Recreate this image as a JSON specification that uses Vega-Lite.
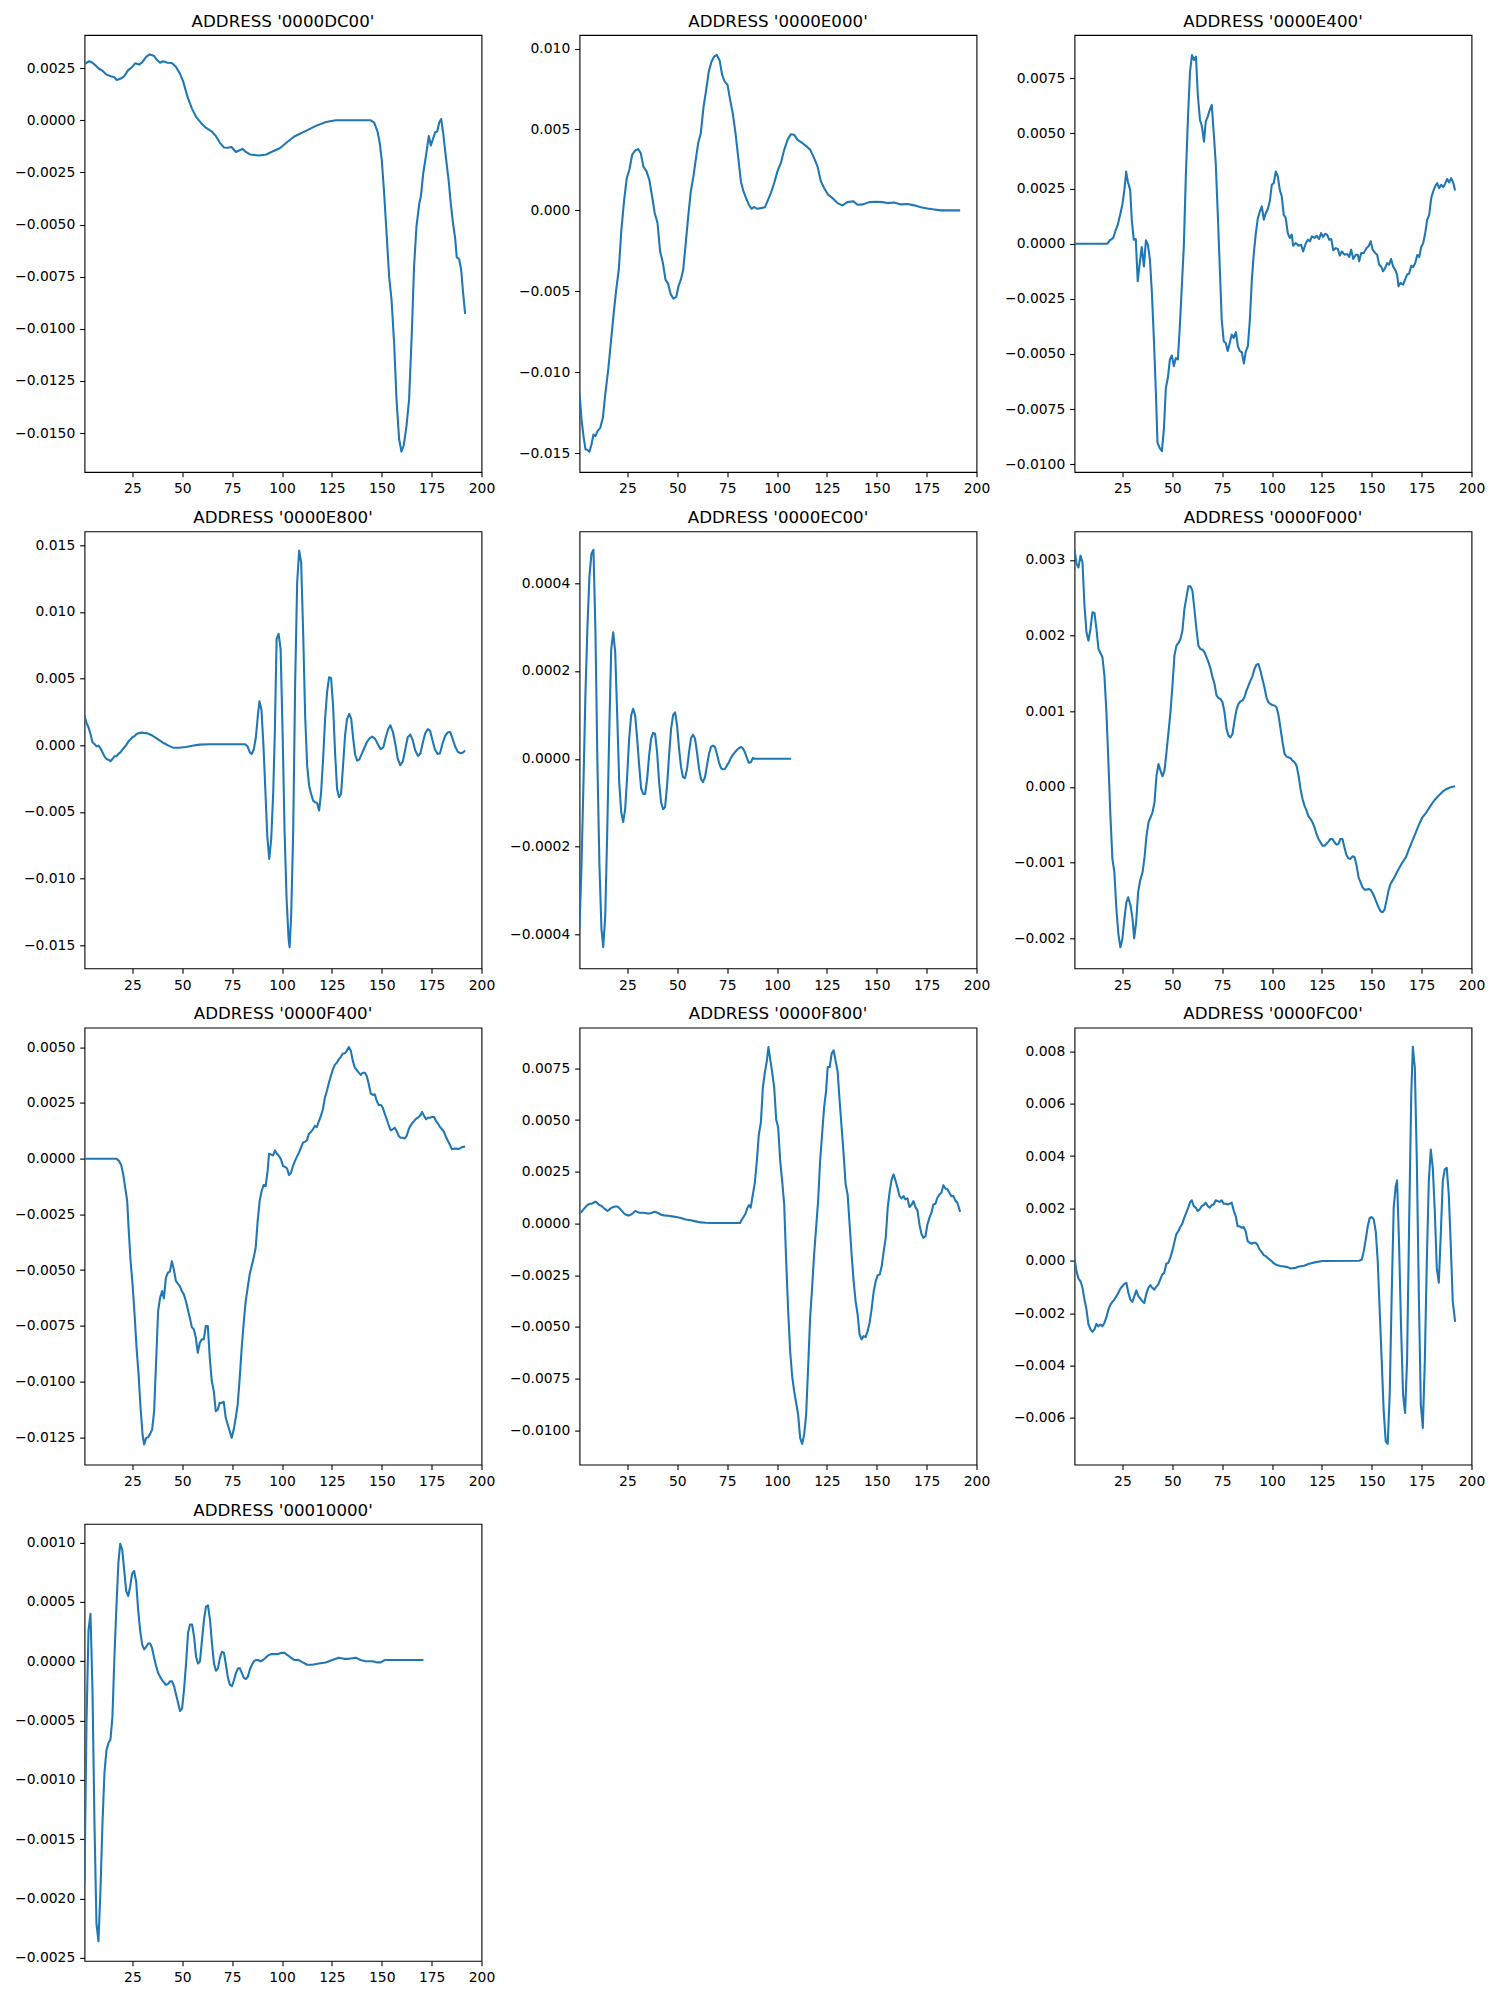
{
"$schema": "https://vega.github.io/schema/vega-lite/v6.json",
"background": "white",
"padding": {"left": 13.5, "top": 13, "right": 5, "bottom": 5},
"columns": 3,
"spacing": {"row": 59.3, "column": 98},
"bounds": "flush",
"datasets": {
"dc00": [{"x":1,"y":0.0027},{"x":3.3,"y":0.00283},{"x":5,"y":0.00276},{"x":6.7,"y":0.00262},{"x":8.4,"y":0.00246},{"x":10,"y":0.00238},{"x":12,"y":0.00219},{"x":14.2,"y":0.00211},{"x":16,"y":0.00206},{"x":17.2,"y":0.00193},{"x":19.2,"y":0.002},{"x":21,"y":0.00212},{"x":22.7,"y":0.00238},{"x":25,"y":0.00257},{"x":26.4,"y":0.00273},{"x":28.4,"y":0.00267},{"x":30,"y":0.00279},{"x":32,"y":0.00305},{"x":33.7,"y":0.00316},{"x":35.7,"y":0.0031},{"x":37.4,"y":0.00289},{"x":38.9,"y":0.00276},{"x":40.4,"y":0.00283},{"x":42.6,"y":0.00276},{"x":44.8,"y":0.00275},{"x":46.8,"y":0.00257},{"x":48.8,"y":0.00225},{"x":50.5,"y":0.00185},{"x":52.6,"y":0.00113},{"x":54.8,"y":0.00057},{"x":57.1,"y":0.00014},{"x":59.5,"y":-0.00014},{"x":62.2,"y":-0.00038},{"x":64.8,"y":-0.00054},{"x":66.8,"y":-0.00075},{"x":68.8,"y":-0.00107},{"x":71,"y":-0.00131},{"x":72.8,"y":-0.00132},{"x":74.7,"y":-0.00128},{"x":76.9,"y":-0.00152},{"x":78.5,"y":-0.00145},{"x":80.2,"y":-0.00137},{"x":81.9,"y":-0.00152},{"x":83.9,"y":-0.00164},{"x":88.6,"y":-0.00169},{"x":92.2,"y":-0.00164},{"x":95.2,"y":-0.0015},{"x":98.9,"y":-0.00134},{"x":101.9,"y":-0.0011},{"x":106.1,"y":-0.00078},{"x":112,"y":-0.00051},{"x":117,"y":-0.00027},{"x":122,"y":-0.00008},{"x":127,"y":0},{"x":144.5,"y":0},{"x":146.2,"y":-0.00011},{"x":147.9,"y":-0.00054},{"x":149,"y":-0.0011},{"x":150,"y":-0.0019},{"x":151.2,"y":-0.0035},{"x":152.4,"y":-0.0054},{"x":153.7,"y":-0.0075},{"x":154.9,"y":-0.0086},{"x":156.2,"y":-0.01068},{"x":157.4,"y":-0.0134},{"x":158.7,"y":-0.0153},{"x":159.9,"y":-0.0159},{"x":161,"y":-0.0156},{"x":162.4,"y":-0.01467},{"x":163.7,"y":-0.0134},{"x":165,"y":-0.01036},{"x":166.2,"y":-0.007},{"x":167.4,"y":-0.0051},{"x":168.8,"y":-0.004},{"x":169.6,"y":-0.00366},{"x":170.8,"y":-0.00254},{"x":172.1,"y":-0.00174},{"x":173.6,"y":-0.00075},{"x":174.6,"y":-0.00121},{"x":175.8,"y":-0.00086},{"x":176.8,"y":-0.00057},{"x":177.8,"y":-0.00054},{"x":178.8,"y":-0.00011},{"x":179.8,"y":0.00006},{"x":180.8,"y":-0.00062},{"x":182.1,"y":-0.00174},{"x":183.5,"y":-0.00286},{"x":184.6,"y":-0.004},{"x":185.8,"y":-0.005},{"x":186.8,"y":-0.00565},{"x":187.6,"y":-0.00658},{"x":188.8,"y":-0.00666},{"x":189.8,"y":-0.00717},{"x":190.8,"y":-0.00829},{"x":191.8,"y":-0.00929}],
"e000": [{"x":1,"y":-0.01128},{"x":2,"y":-0.01292},{"x":3,"y":-0.01395},{"x":4,"y":-0.01477},{"x":5,"y":-0.01481},{"x":6,"y":-0.01492},{"x":7,"y":-0.01447},{"x":8,"y":-0.01385},{"x":9,"y":-0.01395},{"x":10,"y":-0.01364},{"x":11.4,"y":-0.01344},{"x":12.7,"y":-0.01282},{"x":14,"y":-0.01128},{"x":15.4,"y":-0.00984},{"x":16.7,"y":-0.00819},{"x":18,"y":-0.00654},{"x":19.4,"y":-0.0049},{"x":20.7,"y":-0.00366},{"x":22,"y":-0.00119},{"x":23.4,"y":0.00066},{"x":24.7,"y":0.002},{"x":26,"y":0.00251},{"x":27.4,"y":0.00344},{"x":28.9,"y":0.0037},{"x":30.4,"y":0.00379},{"x":31.7,"y":0.00354},{"x":33,"y":0.00272},{"x":34.6,"y":0.00241},{"x":36,"y":0.00189},{"x":37.4,"y":0.00086},{"x":38.7,"y":-0.00016},{"x":40.1,"y":-0.00078},{"x":41.4,"y":-0.00253},{"x":42.8,"y":-0.00325},{"x":44.1,"y":-0.00428},{"x":45.4,"y":-0.00453},{"x":46.8,"y":-0.00521},{"x":48.1,"y":-0.00545},{"x":49.5,"y":-0.00535},{"x":50.6,"y":-0.00469},{"x":51.8,"y":-0.00428},{"x":53,"y":-0.00366},{"x":54.1,"y":-0.00222},{"x":55.5,"y":-0.00037},{"x":56.8,"y":0.00117},{"x":58.1,"y":0.0021},{"x":59.5,"y":0.00333},{"x":60.5,"y":0.00416},{"x":61.8,"y":0.00477},{"x":63.2,"y":0.00642},{"x":64.5,"y":0.00745},{"x":65.8,"y":0.00858},{"x":67.2,"y":0.0092},{"x":68.5,"y":0.00951},{"x":69.8,"y":0.00961},{"x":71.2,"y":0.0093},{"x":72.5,"y":0.00837},{"x":73.8,"y":0.00796},{"x":75.2,"y":0.00776},{"x":76.5,"y":0.00683},{"x":77.8,"y":0.00601},{"x":79.2,"y":0.00477},{"x":80.5,"y":0.00333},{"x":81.9,"y":0.00179},{"x":83.2,"y":0.00117},{"x":84.5,"y":0.00076},{"x":85.9,"y":0.00035},{"x":87.2,"y":0.0001},{"x":88.6,"y":0.00021},{"x":89.9,"y":0.0001},{"x":91.9,"y":0.00014},{"x":93.9,"y":0.00019},{"x":95.2,"y":0.00056},{"x":96.9,"y":0.00107},{"x":98.6,"y":0.00169},{"x":100.2,"y":0.00241},{"x":101.9,"y":0.00292},{"x":103.6,"y":0.00374},{"x":105.3,"y":0.00436},{"x":106.9,"y":0.00471},{"x":108.6,"y":0.00467},{"x":110.3,"y":0.00436},{"x":112.3,"y":0.0042},{"x":114.5,"y":0.00399},{"x":116.7,"y":0.00374},{"x":118.6,"y":0.00323},{"x":120.3,"y":0.00272},{"x":122,"y":0.00179},{"x":123.6,"y":0.00138},{"x":125.6,"y":0.00097},{"x":127.8,"y":0.00076},{"x":130.3,"y":0.00045},{"x":132.8,"y":0.00031},{"x":135.3,"y":0.00051},{"x":138.3,"y":0.00056},{"x":140.4,"y":0.00035},{"x":142.9,"y":0.00037},{"x":146.2,"y":0.00051},{"x":149.5,"y":0.00053},{"x":152.9,"y":0.00051},{"x":155.4,"y":0.00045},{"x":158.7,"y":0.00049},{"x":162.1,"y":0.00037},{"x":165.4,"y":0.00039},{"x":168.8,"y":0.00031},{"x":172.1,"y":0.00019},{"x":175.4,"y":0.00012},{"x":178.8,"y":0.00006},{"x":182.1,"y":0},{"x":191.8,"y":0}],
"e400": [{"x":1,"y":0},{"x":17.5,"y":0},{"x":18.7,"y":0.00015},{"x":20.4,"y":0.00026},{"x":21.7,"y":0.00063},{"x":22.7,"y":0.00086},{"x":23.7,"y":0.00124},{"x":25,"y":0.00177},{"x":26,"y":0.00244},{"x":26.9,"y":0.00327},{"x":27.7,"y":0.00282},{"x":28.9,"y":0.00244},{"x":29.7,"y":0.00109},{"x":30.7,"y":0.00018},{"x":31.7,"y":0.00021},{"x":32.7,"y":-0.0017},{"x":33.7,"y":-0.00088},{"x":34.7,"y":-0.00015},{"x":35.8,"y":-0.00103},{"x":36.8,"y":0.00015},{"x":37.8,"y":-0.00005},{"x":38.8,"y":-0.00072},{"x":39.8,"y":-0.00223},{"x":40.8,"y":-0.00435},{"x":41.8,"y":-0.00676},{"x":42.6,"y":-0.00902},{"x":43.6,"y":-0.00925},{"x":44.8,"y":-0.0094},{"x":45.8,"y":-0.00842},{"x":46.8,"y":-0.00653},{"x":47.8,"y":-0.00608},{"x":48.8,"y":-0.00525},{"x":49.8,"y":-0.00507},{"x":50.8,"y":-0.00555},{"x":51.8,"y":-0.00518},{"x":52.8,"y":-0.00525},{"x":53.8,"y":-0.00374},{"x":54.8,"y":-0.00193},{"x":55.8,"y":-0.00012},{"x":56.8,"y":0.00305},{"x":57.9,"y":0.00576},{"x":58.9,"y":0.0078},{"x":59.9,"y":0.00855},{"x":60.9,"y":0.00833},{"x":61.9,"y":0.00848},{"x":62.8,"y":0.00674},{"x":63.9,"y":0.00561},{"x":64.9,"y":0.00531},{"x":65.9,"y":0.00463},{"x":66.8,"y":0.00554},{"x":67.8,"y":0.00576},{"x":68.8,"y":0.00607},{"x":69.8,"y":0.00629},{"x":70.8,"y":0.00501},{"x":71.8,"y":0.00365},{"x":72.8,"y":0.00139},{"x":73.8,"y":-0.00103},{"x":74.8,"y":-0.00344},{"x":75.8,"y":-0.00442},{"x":76.8,"y":-0.0045},{"x":77.8,"y":-0.00487},{"x":78.8,"y":-0.0045},{"x":79.8,"y":-0.00412},{"x":80.8,"y":-0.00427},{"x":81.9,"y":-0.00401},{"x":82.9,"y":-0.00465},{"x":83.9,"y":-0.00487},{"x":84.9,"y":-0.00492},{"x":85.9,"y":-0.00543},{"x":86.9,"y":-0.00487},{"x":87.9,"y":-0.00465},{"x":88.9,"y":-0.00344},{"x":89.9,"y":-0.00163},{"x":90.9,"y":-0.00042},{"x":91.9,"y":0.00048},{"x":92.9,"y":0.00116},{"x":93.9,"y":0.00146},{"x":94.9,"y":0.00169},{"x":95.9,"y":0.00109},{"x":96.9,"y":0.00139},{"x":97.9,"y":0.00157},{"x":98.9,"y":0.00192},{"x":99.9,"y":0.00267},{"x":100.9,"y":0.00275},{"x":101.9,"y":0.00327},{"x":102.9,"y":0.00305},{"x":103.9,"y":0.00244},{"x":104.9,"y":0.00214},{"x":105.9,"y":0.00131},{"x":106.9,"y":0.00116},{"x":107.9,"y":0.00048},{"x":108.9,"y":0.00026},{"x":109.9,"y":0.00041},{"x":110.6,"y":-0.00009},{"x":111.9,"y":0.00003},{"x":113.3,"y":-0.00009},{"x":114.6,"y":-0.00005},{"x":115.6,"y":-0.00035},{"x":117,"y":0.00003},{"x":118,"y":0.00018},{"x":119,"y":0.00011},{"x":120,"y":0.00033},{"x":121.3,"y":0.00026},{"x":122.3,"y":0.00036},{"x":123.6,"y":0.00021},{"x":124.6,"y":0.00048},{"x":125.6,"y":0.0003},{"x":126.6,"y":0.00045},{"x":127.6,"y":0.00041},{"x":128.7,"y":0.00018},{"x":129.7,"y":0.00021},{"x":130.7,"y":-0.0003},{"x":132,"y":-0.0002},{"x":133,"y":-0.00024},{"x":134,"y":-0.00054},{"x":135,"y":-0.00035},{"x":136.3,"y":-0.0005},{"x":137.7,"y":-0.00047},{"x":138.7,"y":-0.0006},{"x":139.7,"y":-0.00027},{"x":140.7,"y":-0.00069},{"x":142,"y":-0.0005},{"x":143,"y":-0.0005},{"x":143.7,"y":-0.0008},{"x":144.7,"y":-0.00042},{"x":146,"y":-0.00042},{"x":147.4,"y":-0.0002},{"x":148.4,"y":-0.00012},{"x":149.5,"y":0.00011},{"x":150.4,"y":-0.00027},{"x":151.7,"y":-0.00042},{"x":152.7,"y":-0.0005},{"x":153.7,"y":-0.00095},{"x":154.7,"y":-0.00103},{"x":155.7,"y":-0.00125},{"x":156.7,"y":-0.0011},{"x":157.7,"y":-0.00088},{"x":158.7,"y":-0.00095},{"x":159.7,"y":-0.00069},{"x":160.7,"y":-0.00103},{"x":161.7,"y":-0.00118},{"x":162.7,"y":-0.0014},{"x":163.4,"y":-0.00193},{"x":164.4,"y":-0.00178},{"x":165.7,"y":-0.00186},{"x":166.7,"y":-0.00163},{"x":167.7,"y":-0.0014},{"x":168.7,"y":-0.00136},{"x":169.8,"y":-0.001},{"x":170.8,"y":-0.00106},{"x":171.8,"y":-0.00088},{"x":172.8,"y":-0.00051},{"x":173.8,"y":-0.0006},{"x":174.8,"y":-0.00015},{"x":175.8,"y":0.00003},{"x":176.8,"y":0.00048},{"x":177.8,"y":0.00109},{"x":178.8,"y":0.00131},{"x":179.8,"y":0.00207},{"x":180.8,"y":0.00237},{"x":181.8,"y":0.0026},{"x":182.8,"y":0.00275},{"x":183.8,"y":0.00252},{"x":184.8,"y":0.00267},{"x":185.8,"y":0.00256},{"x":186.8,"y":0.00272},{"x":187.8,"y":0.00293},{"x":188.8,"y":0.00278},{"x":189.8,"y":0.00297},{"x":190.8,"y":0.00278},{"x":191.8,"y":0.00241}],
"e800": [{"x":1,"y":0.00223},{"x":2,"y":0.00168},{"x":3,"y":0.00135},{"x":4,"y":0.00085},{"x":5,"y":0.00023},{"x":6,"y":0.0001},{"x":7,"y":-0.00008},{"x":8,"y":-0.00003},{"x":9,"y":-0.00023},{"x":10,"y":-0.00053},{"x":11,"y":-0.00083},{"x":12,"y":-0.00103},{"x":13,"y":-0.00108},{"x":14,"y":-0.0012},{"x":15,"y":-0.00103},{"x":16,"y":-0.00083},{"x":17,"y":-0.00083},{"x":18,"y":-0.00065},{"x":19,"y":-0.00053},{"x":20,"y":-0.00033},{"x":21,"y":-0.00015},{"x":22,"y":0.00003},{"x":23,"y":0.00028},{"x":24,"y":0.00043},{"x":25,"y":0.0006},{"x":26,"y":0.00068},{"x":27,"y":0.00083},{"x":28,"y":0.0009},{"x":29,"y":0.00093},{"x":30,"y":0.00095},{"x":31,"y":0.0009},{"x":32,"y":0.00093},{"x":33.3,"y":0.00085},{"x":35,"y":0.00073},{"x":36.8,"y":0.00055},{"x":38.8,"y":0.00035},{"x":40.9,"y":0.00015},{"x":43.1,"y":-0.00003},{"x":45.4,"y":-0.00018},{"x":48.5,"y":-0.00018},{"x":51.8,"y":-0.00013},{"x":55.1,"y":-0.00003},{"x":58.5,"y":0.00005},{"x":63.5,"y":0.00008},{"x":73.5,"y":0.00008},{"x":81.5,"y":0.00008},{"x":82.7,"y":-0.00008},{"x":83.9,"y":-0.00053},{"x":84.9,"y":-0.00065},{"x":85.9,"y":-0.00028},{"x":86.9,"y":0.0006},{"x":87.9,"y":0.00223},{"x":88.7,"y":0.0033},{"x":89.7,"y":0.00268},{"x":90.7,"y":-0.00003},{"x":91.7,"y":-0.00353},{"x":92.6,"y":-0.00678},{"x":93.6,"y":-0.00853},{"x":94.6,"y":-0.00703},{"x":95.6,"y":-0.00353},{"x":96.4,"y":0.00098},{"x":97.3,"y":0.00798},{"x":98.3,"y":0.00835},{"x":99.3,"y":0.00723},{"x":100.3,"y":0.00098},{"x":101.3,"y":-0.00653},{"x":102.3,"y":-0.01153},{"x":103.3,"y":-0.01453},{"x":103.8,"y":-0.01515},{"x":104.6,"y":-0.01278},{"x":105.6,"y":-0.00653},{"x":106.6,"y":0.00473},{"x":107.6,"y":0.01223},{"x":108.6,"y":0.0146},{"x":109.6,"y":0.01373},{"x":110.6,"y":0.00848},{"x":111.6,"y":0.00223},{"x":112.6,"y":-0.00153},{"x":113.6,"y":-0.00303},{"x":114.6,"y":-0.00365},{"x":115.6,"y":-0.00415},{"x":116.6,"y":-0.00428},{"x":117.6,"y":-0.00433},{"x":118.6,"y":-0.0049},{"x":119.6,"y":-0.00353},{"x":120.6,"y":-0.00103},{"x":121.6,"y":0.00198},{"x":122.6,"y":0.00398},{"x":123.6,"y":0.0051},{"x":124.6,"y":0.00503},{"x":125.6,"y":0.00298},{"x":126.6,"y":-0.00053},{"x":127.6,"y":-0.00328},{"x":128.6,"y":-0.0039},{"x":129.6,"y":-0.00365},{"x":130.6,"y":-0.00153},{"x":131.6,"y":0.00073},{"x":132.6,"y":0.00198},{"x":133.7,"y":0.00235},{"x":134.7,"y":0.00198},{"x":135.7,"y":0.00048},{"x":136.7,"y":-0.00073},{"x":137.7,"y":-0.00115},{"x":138.7,"y":-0.00108},{"x":140,"y":-0.00065},{"x":141.4,"y":-0.00015},{"x":142.7,"y":0.00028},{"x":144,"y":0.00053},{"x":145.2,"y":0.00065},{"x":146.7,"y":0.00048},{"x":148,"y":0.0001},{"x":149.5,"y":-0.0003},{"x":150.8,"y":-0.00015},{"x":152,"y":0.0006},{"x":153.2,"y":0.0012},{"x":154.3,"y":0.0015},{"x":155.6,"y":0.001},{"x":156.8,"y":0.0001},{"x":158,"y":-0.001},{"x":159.3,"y":-0.0015},{"x":160.6,"y":-0.0012},{"x":161.8,"y":-0.0003},{"x":163,"y":0.0006},{"x":164.3,"y":0.0008},{"x":165.5,"y":0.0004},{"x":166.8,"y":-0.0004},{"x":168.2,"y":-0.0008},{"x":169.4,"y":-0.0006},{"x":170.6,"y":0.0002},{"x":171.8,"y":0.0009},{"x":173,"y":0.0012},{"x":174.2,"y":0.0011},{"x":175.4,"y":0.0004},{"x":176.6,"y":-0.0003},{"x":178,"y":-0.00065},{"x":179.2,"y":-0.0006},{"x":180.4,"y":0.0001},{"x":181.8,"y":0.0007},{"x":183,"y":0.00095},{"x":184.3,"y":0.001},{"x":185.5,"y":0.0005},{"x":186.8,"y":-0.0001},{"x":188.2,"y":-0.0005},{"x":189.6,"y":-0.0006},{"x":190.7,"y":-0.00055},{"x":191.8,"y":-0.0004}],
"ec00": [{"x":1,"y":-0.000387},{"x":2,"y":-0.000243},{"x":3,"y":-0.000053},{"x":4,"y":0.000152},{"x":5,"y":0.000304},{"x":6,"y":0.000417},{"x":7,"y":0.000467},{"x":8,"y":0.000476},{"x":9,"y":0.000288},{"x":10,"y":-0.000015},{"x":11,"y":-0.000243},{"x":12,"y":-0.000387},{"x":12.9,"y":-0.000429},{"x":13.9,"y":-0.000357},{"x":14.9,"y":-0.000167},{"x":15.9,"y":0.000061},{"x":16.9,"y":0.00025},{"x":17.9,"y":0.000288},{"x":18.9,"y":0.000243},{"x":19.9,"y":0.000099},{"x":20.9,"y":-0.000053},{"x":21.9,"y":-0.000121},{"x":22.9,"y":-0.000144},{"x":23.9,"y":-0.000114},{"x":24.9,"y":-0.000038},{"x":25.9,"y":0.000046},{"x":26.9,"y":0.000099},{"x":27.9,"y":0.000114},{"x":28.9,"y":0.000099},{"x":29.9,"y":0.000046},{"x":30.9,"y":-0.000015},{"x":31.9,"y":-0.000068},{"x":32.9,"y":-0.00008},{"x":33.9,"y":-0.00008},{"x":34.9,"y":-0.000046},{"x":35.9,"y":0.000008},{"x":36.9,"y":0.000046},{"x":37.9,"y":0.000059},{"x":38.9,"y":0.000057},{"x":39.9,"y":0.000015},{"x":40.9,"y":-0.000053},{"x":41.9,"y":-0.000099},{"x":42.9,"y":-0.000115},{"x":43.9,"y":-0.00011},{"x":44.9,"y":-0.000061},{"x":45.9,"y":0.000008},{"x":46.9,"y":0.000068},{"x":47.9,"y":0.000099},{"x":48.9,"y":0.000106},{"x":49.9,"y":0.000076},{"x":50.9,"y":0.000023},{"x":51.9,"y":-0.000019},{"x":52.9,"y":-0.000042},{"x":53.9,"y":-0.000044},{"x":54.9,"y":-0.000023},{"x":55.9,"y":0.000015},{"x":56.9,"y":0.000047},{"x":57.9,"y":0.000055},{"x":58.9,"y":0.000046},{"x":59.9,"y":0.000015},{"x":60.9,"y":-0.000023},{"x":61.9,"y":-0.000046},{"x":62.9,"y":-0.000053},{"x":63.9,"y":-0.000042},{"x":64.9,"y":-0.000015},{"x":65.9,"y":0.000011},{"x":66.9,"y":0.000027},{"x":67.9,"y":0.00003},{"x":68.9,"y":0.000027},{"x":69.9,"y":0.000011},{"x":70.9,"y":-0.000008},{"x":71.9,"y":-0.000021},{"x":72.9,"y":-0.000024},{"x":73.9,"y":-0.000023},{"x":74.9,"y":-0.000015},{"x":75.9,"y":-0.000008},{"x":76.9,"y":0.000002},{"x":77.9,"y":0.000009},{"x":78.9,"y":0.000015},{"x":79.9,"y":0.00002},{"x":80.9,"y":0.000024},{"x":81.9,"y":0.000027},{"x":82.9,"y":0.000024},{"x":83.9,"y":0.000015},{"x":84.9,"y":0.000002},{"x":85.9,"y":-0.000009},{"x":86.9,"y":-0.000008},{"x":87.9,"y":0.000002},{"x":88.9,"y":0},{"x":107.1,"y":0}],
"f000": [{"x":1,"y":0.003145},{"x":2,"y":0.002947},{"x":3,"y":0.002903},{"x":4,"y":0.003057},{"x":5,"y":0.002969},{"x":6,"y":0.002396},{"x":7,"y":0.002044},{"x":8,"y":0.001934},{"x":9,"y":0.002088},{"x":10,"y":0.002308},{"x":11,"y":0.0023},{"x":12,"y":0.002088},{"x":13,"y":0.001824},{"x":14,"y":0.001771},{"x":15,"y":0.001714},{"x":16,"y":0.001471},{"x":17,"y":0.000987},{"x":18,"y":0.000326},{"x":19,"y":-0.000379},{"x":20,"y":-0.000951},{"x":21,"y":-0.001128},{"x":22,"y":-0.001612},{"x":23,"y":-0.001943},{"x":24,"y":-0.002119},{"x":25,"y":-0.002009},{"x":26,"y":-0.001744},{"x":27,"y":-0.001524},{"x":27.9,"y":-0.001458},{"x":29.1,"y":-0.001568},{"x":30.1,"y":-0.001744},{"x":30.9,"y":-0.002},{"x":31.9,"y":-0.001788},{"x":32.9,"y":-0.001392},{"x":33.9,"y":-0.001238},{"x":35.1,"y":-0.001128},{"x":36.1,"y":-0.000929},{"x":37.1,"y":-0.000643},{"x":38.1,"y":-0.000467},{"x":39.1,"y":-0.000401},{"x":40.1,"y":-0.000335},{"x":41.1,"y":-0.000203},{"x":42.1,"y":0.00015},{"x":43.1,"y":0.000304},{"x":44.1,"y":0.000216},{"x":45.1,"y":0.000141},{"x":46.1,"y":0.000216},{"x":47.1,"y":0.000458},{"x":48.1,"y":0.000722},{"x":49.1,"y":0.000987},{"x":50.1,"y":0.001339},{"x":51.1,"y":0.001736},{"x":52.1,"y":0.001868},{"x":53.1,"y":0.001903},{"x":54.1,"y":0.001956},{"x":55.1,"y":0.002066},{"x":56.1,"y":0.002352},{"x":57.1,"y":0.002506},{"x":58.1,"y":0.002652},{"x":59.1,"y":0.002652},{"x":60.1,"y":0.002595},{"x":61.1,"y":0.002352},{"x":62.1,"y":0.002088},{"x":63.1,"y":0.001868},{"x":64.1,"y":0.001824},{"x":65.2,"y":0.001815},{"x":66.2,"y":0.00178},{"x":67.2,"y":0.001714},{"x":68.2,"y":0.001647},{"x":69.2,"y":0.001559},{"x":70.2,"y":0.001449},{"x":71.2,"y":0.001361},{"x":72.2,"y":0.001207},{"x":73.2,"y":0.001176},{"x":74.2,"y":0.001163},{"x":75.2,"y":0.001119},{"x":76.2,"y":0.000987},{"x":77.2,"y":0.000766},{"x":78.2,"y":0.000678},{"x":79.2,"y":0.000656},{"x":80.2,"y":0.0007},{"x":81.2,"y":0.000877},{"x":82.2,"y":0.001022},{"x":83.2,"y":0.001097},{"x":84.2,"y":0.001132},{"x":85.2,"y":0.001141},{"x":86.2,"y":0.001185},{"x":87.2,"y":0.001273},{"x":88.2,"y":0.001339},{"x":89.2,"y":0.001405},{"x":90.2,"y":0.001462},{"x":91.2,"y":0.001559},{"x":92.2,"y":0.001617},{"x":93.2,"y":0.001625},{"x":94.2,"y":0.001537},{"x":95.2,"y":0.001427},{"x":96.2,"y":0.001317},{"x":97.2,"y":0.001185},{"x":98.2,"y":0.001119},{"x":99.2,"y":0.001097},{"x":100.2,"y":0.001084},{"x":101.3,"y":0.001075},{"x":102.3,"y":0.001053},{"x":103.3,"y":0.000943},{"x":104.3,"y":0.000766},{"x":105.3,"y":0.00059},{"x":106.3,"y":0.000436},{"x":107.3,"y":0.000401},{"x":108.3,"y":0.000392},{"x":109.3,"y":0.000379},{"x":110.3,"y":0.000348},{"x":111.3,"y":0.000326},{"x":112.3,"y":0.000282},{"x":113.3,"y":0.00015},{"x":114.3,"y":-0.000026},{"x":115.3,"y":-0.000159},{"x":116.3,"y":-0.000247},{"x":117.3,"y":-0.000313},{"x":118.3,"y":-0.000388},{"x":119.3,"y":-0.000423},{"x":120.3,"y":-0.000467},{"x":121.3,"y":-0.000533},{"x":122.3,"y":-0.000621},{"x":123.3,"y":-0.000687},{"x":124.3,"y":-0.000731},{"x":125.3,"y":-0.000775},{"x":126.3,"y":-0.000775},{"x":127.3,"y":-0.000753},{"x":128.3,"y":-0.000722},{"x":129.3,"y":-0.000687},{"x":130.3,"y":-0.000687},{"x":131.3,"y":-0.000731},{"x":132.3,"y":-0.000762},{"x":133.3,"y":-0.000753},{"x":134.3,"y":-0.000687},{"x":135.3,"y":-0.000687},{"x":136.3,"y":-0.000797},{"x":137.3,"y":-0.000899},{"x":138.3,"y":-0.000943},{"x":139.3,"y":-0.000951},{"x":140.3,"y":-0.000916},{"x":141.4,"y":-0.000929},{"x":142.4,"y":-0.00104},{"x":143.4,"y":-0.001194},{"x":144.4,"y":-0.00126},{"x":145.4,"y":-0.001326},{"x":146.4,"y":-0.001357},{"x":147.4,"y":-0.001357},{"x":148.4,"y":-0.001348},{"x":149.4,"y":-0.001357},{"x":150.4,"y":-0.001401},{"x":151.4,"y":-0.001458},{"x":152.4,"y":-0.001524},{"x":153.4,"y":-0.00159},{"x":154.4,"y":-0.001643},{"x":155.4,"y":-0.001656},{"x":156.4,"y":-0.001621},{"x":157.4,"y":-0.001502},{"x":158.4,"y":-0.00137},{"x":159.4,"y":-0.001282},{"x":160.4,"y":-0.001238},{"x":161.4,"y":-0.001194},{"x":162.4,"y":-0.001137},{"x":163.7,"y":-0.001075},{"x":165.4,"y":-0.000996},{"x":167.1,"y":-0.000929},{"x":168.7,"y":-0.000819},{"x":170.4,"y":-0.000709},{"x":172.1,"y":-0.000599},{"x":173.8,"y":-0.000489},{"x":175.4,"y":-0.000401},{"x":177.4,"y":-0.000335},{"x":179.5,"y":-0.000247},{"x":181.5,"y":-0.000172},{"x":183.5,"y":-0.000115},{"x":185.5,"y":-0.000062},{"x":187.5,"y":-0.000026},{"x":189.5,"y":-0.000004},{"x":191.8,"y":0.000009}],
"f400": [{"x":1,"y":0},{"x":17,"y":0},{"x":18.3,"y":-0.0001},{"x":19.4,"y":-0.00028},{"x":20.4,"y":-0.0007},{"x":21.4,"y":-0.0013},{"x":22.4,"y":-0.0019},{"x":23.1,"y":-0.0031},{"x":24.1,"y":-0.0046},{"x":25.1,"y":-0.00564},{"x":26.1,"y":-0.00699},{"x":27.1,"y":-0.00849},{"x":28.1,"y":-0.00968},{"x":29.1,"y":-0.01118},{"x":30.1,"y":-0.01238},{"x":30.9,"y":-0.01283},{"x":31.9,"y":-0.01253},{"x":32.9,"y":-0.0125},{"x":33.9,"y":-0.01235},{"x":34.9,"y":-0.01216},{"x":35.9,"y":-0.01133},{"x":36.9,"y":-0.00909},{"x":37.9,"y":-0.00684},{"x":38.9,"y":-0.00624},{"x":39.9,"y":-0.00594},{"x":40.8,"y":-0.00627},{"x":41.8,"y":-0.00534},{"x":42.8,"y":-0.00512},{"x":43.8,"y":-0.00507},{"x":44.8,"y":-0.0046},{"x":45.8,"y":-0.00497},{"x":46.8,"y":-0.00549},{"x":47.8,"y":-0.00561},{"x":48.8,"y":-0.00572},{"x":49.8,"y":-0.00594},{"x":50.8,"y":-0.00609},{"x":51.8,"y":-0.00639},{"x":52.8,"y":-0.00677},{"x":53.8,"y":-0.00714},{"x":54.8,"y":-0.00756},{"x":55.8,"y":-0.00766},{"x":56.8,"y":-0.00804},{"x":57.8,"y":-0.00871},{"x":58.8,"y":-0.00826},{"x":59.8,"y":-0.00811},{"x":60.8,"y":-0.00811},{"x":61.8,"y":-0.00751},{"x":62.8,"y":-0.00751},{"x":63.8,"y":-0.00894},{"x":64.8,"y":-0.00998},{"x":65.8,"y":-0.01043},{"x":66.8,"y":-0.01133},{"x":67.8,"y":-0.01126},{"x":68.8,"y":-0.01096},{"x":69.8,"y":-0.01096},{"x":70.8,"y":-0.01091},{"x":71.8,"y":-0.01163},{"x":72.8,"y":-0.01193},{"x":73.8,"y":-0.01223},{"x":74.8,"y":-0.01253},{"x":75.8,"y":-0.01216},{"x":76.8,"y":-0.01163},{"x":77.8,"y":-0.01103},{"x":78.8,"y":-0.00984},{"x":79.8,"y":-0.00849},{"x":80.8,"y":-0.00737},{"x":81.8,"y":-0.00639},{"x":82.8,"y":-0.00579},{"x":83.8,"y":-0.00519},{"x":84.8,"y":-0.00482},{"x":85.8,"y":-0.00445},{"x":86.8,"y":-0.004},{"x":87.8,"y":-0.0028},{"x":88.8,"y":-0.0019},{"x":89.8,"y":-0.00145},{"x":90.8,"y":-0.00118},{"x":91.8,"y":-0.00123},{"x":92.8,"y":-0.00055},{"x":93.5,"y":0.00022},{"x":94.5,"y":0.00019},{"x":95.5,"y":0.00015},{"x":96.5,"y":0.00037},{"x":97.5,"y":0.00022},{"x":98.5,"y":0.00012},{"x":99.5,"y":-0.00003},{"x":100.5,"y":-0.00033},{"x":101.5,"y":-0.00037},{"x":102.5,"y":-0.00043},{"x":103.5,"y":-0.00073},{"x":104.5,"y":-0.00063},{"x":105.5,"y":-0.00033},{"x":106.5,"y":-0.0001},{"x":107.5,"y":0.00009},{"x":108.5,"y":0.00027},{"x":109.5,"y":0.00049},{"x":110.5,"y":0.00072},{"x":111.5,"y":0.00076},{"x":112.5,"y":0.00082},{"x":113.5,"y":0.00112},{"x":114.5,"y":0.0012},{"x":115.5,"y":0.00132},{"x":116.5,"y":0.00147},{"x":117.5,"y":0.00142},{"x":118.5,"y":0.00169},{"x":119.5,"y":0.00192},{"x":120.5,"y":0.00222},{"x":121.5,"y":0.00274},{"x":122.5,"y":0.00304},{"x":123.5,"y":0.00341},{"x":124.5,"y":0.00371},{"x":125.5,"y":0.00401},{"x":126.5,"y":0.00421},{"x":127.5,"y":0.00431},{"x":128.5,"y":0.00446},{"x":129.5,"y":0.00457},{"x":130.5,"y":0.00472},{"x":131.5,"y":0.00473},{"x":132.5,"y":0.00484},{"x":133.5,"y":0.00501},{"x":134.5,"y":0.00484},{"x":135.5,"y":0.00439},{"x":136.5,"y":0.00409},{"x":137.5,"y":0.00397},{"x":138.5,"y":0.00386},{"x":139.5,"y":0.00376},{"x":140.5,"y":0.00386},{"x":141.5,"y":0.00386},{"x":142.5,"y":0.00371},{"x":143.5,"y":0.00334},{"x":144.5,"y":0.00292},{"x":145.5,"y":0.00286},{"x":146.5,"y":0.00289},{"x":147.5,"y":0.00259},{"x":148.5,"y":0.00241},{"x":149.5,"y":0.00241},{"x":150.5,"y":0.00229},{"x":151.5,"y":0.00202},{"x":152.5,"y":0.00177},{"x":153.5,"y":0.0015},{"x":154.5,"y":0.00127},{"x":155.5,"y":0.00132},{"x":156.5,"y":0.00139},{"x":157.5,"y":0.00124},{"x":158.5,"y":0.00102},{"x":159.5,"y":0.00094},{"x":160.5,"y":0.00094},{"x":161.5,"y":0.00091},{"x":162.5,"y":0.00102},{"x":163.5,"y":0.00132},{"x":164.5,"y":0.0015},{"x":165.5,"y":0.00162},{"x":166.5,"y":0.00172},{"x":167.5,"y":0.00181},{"x":168.5,"y":0.00187},{"x":169.5,"y":0.00196},{"x":170.2,"y":0.0021},{"x":171.2,"y":0.00192},{"x":172.2,"y":0.00177},{"x":173.2,"y":0.00184},{"x":174.2,"y":0.00184},{"x":175.2,"y":0.00187},{"x":176.2,"y":0.00187},{"x":177.2,"y":0.00169},{"x":178.2,"y":0.00157},{"x":179.2,"y":0.00142},{"x":180.2,"y":0.00132},{"x":181.2,"y":0.0012},{"x":182.2,"y":0.00097},{"x":183.2,"y":0.00079},{"x":184.2,"y":0.00061},{"x":185.2,"y":0.00042},{"x":186.2,"y":0.00045},{"x":187.2,"y":0.00046},{"x":188.2,"y":0.00043},{"x":189.2,"y":0.00046},{"x":190.2,"y":0.00052},{"x":191.8,"y":0.00054}],
"f800": [{"x":1,"y":0.00052},{"x":2,"y":0.00056},{"x":3,"y":0.00068},{"x":4,"y":0.00079},{"x":5,"y":0.00089},{"x":6,"y":0.00095},{"x":7,"y":0.00095},{"x":8,"y":0.001},{"x":9,"y":0.00105},{"x":10,"y":0.00098},{"x":11,"y":0.00089},{"x":12,"y":0.00085},{"x":13,"y":0.00076},{"x":14,"y":0.00068},{"x":15,"y":0.0006},{"x":16,"y":0.00068},{"x":17,"y":0.00076},{"x":18,"y":0.00079},{"x":19,"y":0.00082},{"x":20,"y":0.00082},{"x":21,"y":0.00073},{"x":22,"y":0.00063},{"x":23,"y":0.00052},{"x":24,"y":0.00044},{"x":25,"y":0.00039},{"x":26,"y":0.00039},{"x":27,"y":0.00044},{"x":28,"y":0.00052},{"x":29,"y":0.0006},{"x":30,"y":0.00056},{"x":31,"y":0.00052},{"x":32,"y":0.00052},{"x":33,"y":0.00052},{"x":34,"y":0.0005},{"x":35,"y":0.00048},{"x":36,"y":0.00048},{"x":37,"y":0.0005},{"x":38,"y":0.00055},{"x":39,"y":0.00056},{"x":40,"y":0.00052},{"x":41,"y":0.00047},{"x":42,"y":0.00042},{"x":43.4,"y":0.00039},{"x":45.4,"y":0.00037},{"x":47.4,"y":0.00034},{"x":49.5,"y":0.00031},{"x":51.8,"y":0.00026},{"x":54.3,"y":0.00019},{"x":56.8,"y":0.00015},{"x":59.3,"y":0.0001},{"x":61.8,"y":0.00005},{"x":64.3,"y":0.00003},{"x":66.8,"y":0.00002},{"x":81.5,"y":0.00002},{"x":82.2,"y":0.00016},{"x":83.2,"y":0.00031},{"x":84.2,"y":0.00047},{"x":85.2,"y":0.00076},{"x":86,"y":0.00089},{"x":86.8,"y":0.00076},{"x":87.9,"y":0.0014},{"x":88.9,"y":0.00197},{"x":89.9,"y":0.00302},{"x":90.9,"y":0.00431},{"x":91.9,"y":0.00487},{"x":92.9,"y":0.00656},{"x":93.9,"y":0.00729},{"x":94.9,"y":0.00785},{"x":95.7,"y":0.00853},{"x":96.6,"y":0.00794},{"x":97.6,"y":0.00729},{"x":98.6,"y":0.00656},{"x":99.6,"y":0.00503},{"x":100.6,"y":0.00463},{"x":101.6,"y":0.00302},{"x":102.6,"y":0.00205},{"x":103.6,"y":0.00092},{"x":104.6,"y":-0.00182},{"x":105.6,"y":-0.00424},{"x":106.6,"y":-0.00618},{"x":107.6,"y":-0.00739},{"x":108.6,"y":-0.00811},{"x":109.6,"y":-0.00868},{"x":110.6,"y":-0.00924},{"x":111.6,"y":-0.01037},{"x":112.6,"y":-0.01066},{"x":113.6,"y":-0.01021},{"x":114.6,"y":-0.00924},{"x":115.6,"y":-0.00698},{"x":116.6,"y":-0.00456},{"x":117.6,"y":-0.00311},{"x":118.6,"y":-0.0015},{"x":119.6,"y":-0.00021},{"x":120.6,"y":0.00108},{"x":121.6,"y":0.00302},{"x":122.6,"y":0.00431},{"x":123.6,"y":0.0056},{"x":124.6,"y":0.0064},{"x":125.4,"y":0.00756},{"x":126.4,"y":0.00756},{"x":127.4,"y":0.00821},{"x":128.4,"y":0.00837},{"x":129.4,"y":0.00785},{"x":130.4,"y":0.00734},{"x":131.4,"y":0.00592},{"x":132.4,"y":0.00463},{"x":133.4,"y":0.00334},{"x":134.4,"y":0.00189},{"x":135.4,"y":0.0014},{"x":136.4,"y":-0.00005},{"x":137.4,"y":-0.0015},{"x":138.4,"y":-0.00279},{"x":139.4,"y":-0.00376},{"x":140.4,"y":-0.0044},{"x":141.4,"y":-0.00537},{"x":142.4,"y":-0.00561},{"x":143.4,"y":-0.00545},{"x":144.4,"y":-0.0055},{"x":145.4,"y":-0.00521},{"x":146.4,"y":-0.00481},{"x":147.4,"y":-0.00416},{"x":148.5,"y":-0.00327},{"x":149.5,"y":-0.00279},{"x":150.5,"y":-0.0025},{"x":151.5,"y":-0.00247},{"x":152.5,"y":-0.00206},{"x":153.5,"y":-0.00134},{"x":154.5,"y":-0.00069},{"x":155.5,"y":0.00076},{"x":156.5,"y":0.00156},{"x":157.5,"y":0.00213},{"x":158.4,"y":0.00237},{"x":159.4,"y":0.00208},{"x":160.4,"y":0.00173},{"x":161.4,"y":0.00132},{"x":162.4,"y":0.00121},{"x":163.4,"y":0.00132},{"x":164.4,"y":0.00116},{"x":165.4,"y":0.00121},{"x":166.4,"y":0.00079},{"x":167.4,"y":0.00089},{"x":168.4,"y":0.00108},{"x":169.4,"y":0.00079},{"x":170.4,"y":0.00063},{"x":171.4,"y":-0.00005},{"x":172.4,"y":-0.0005},{"x":173.4,"y":-0.00069},{"x":174.4,"y":-0.00063},{"x":175.4,"y":-0.00005},{"x":176.4,"y":0.00027},{"x":177.4,"y":0.00052},{"x":178.4,"y":0.00092},{"x":179.4,"y":0.00095},{"x":180.4,"y":0.00124},{"x":181.4,"y":0.0014},{"x":182.4,"y":0.00148},{"x":183.4,"y":0.00185},{"x":184.4,"y":0.00169},{"x":185.4,"y":0.00165},{"x":186.4,"y":0.00148},{"x":187.4,"y":0.00132},{"x":188.4,"y":0.00132},{"x":189.4,"y":0.00111},{"x":190.4,"y":0.001},{"x":191.8,"y":0.00056}],
"fc00": [{"x":1,"y":0.00009},{"x":2,"y":-0.0004},{"x":3,"y":-0.00068},{"x":4,"y":-0.00078},{"x":5,"y":-0.00103},{"x":6,"y":-0.00148},{"x":7,"y":-0.00186},{"x":8,"y":-0.00243},{"x":9,"y":-0.00262},{"x":10,"y":-0.00271},{"x":11,"y":-0.00262},{"x":12,"y":-0.00241},{"x":13,"y":-0.0025},{"x":14,"y":-0.00243},{"x":15,"y":-0.0025},{"x":16,"y":-0.00237},{"x":17,"y":-0.00215},{"x":18,"y":-0.00186},{"x":19,"y":-0.00167},{"x":20,"y":-0.00157},{"x":21,"y":-0.00148},{"x":22,"y":-0.00135},{"x":23,"y":-0.00122},{"x":24,"y":-0.00106},{"x":25,"y":-0.00097},{"x":26,"y":-0.00088},{"x":27,"y":-0.00084},{"x":28,"y":-0.00122},{"x":29,"y":-0.00148},{"x":30,"y":-0.00157},{"x":31,"y":-0.00135},{"x":32,"y":-0.00113},{"x":33,"y":-0.00135},{"x":34,"y":-0.00144},{"x":35,"y":-0.00154},{"x":36,"y":-0.00161},{"x":37,"y":-0.00126},{"x":38,"y":-0.00103},{"x":39,"y":-0.00093},{"x":40,"y":-0.00103},{"x":41,"y":-0.0011},{"x":42,"y":-0.00099},{"x":43,"y":-0.0009},{"x":44,"y":-0.00071},{"x":45,"y":-0.00052},{"x":46,"y":-0.00046},{"x":47,"y":-0.00011},{"x":48,"y":-0.00008},{"x":49,"y":0.00011},{"x":50,"y":0.00037},{"x":51,"y":0.00069},{"x":52,"y":0.00101},{"x":53,"y":0.00113},{"x":54,"y":0.00129},{"x":55,"y":0.00141},{"x":56,"y":0.00164},{"x":57,"y":0.00183},{"x":58,"y":0.00203},{"x":59,"y":0.00225},{"x":59.8,"y":0.00231},{"x":60.8,"y":0.00209},{"x":61.8,"y":0.00203},{"x":62.8,"y":0.0019},{"x":63.8,"y":0.00197},{"x":64.8,"y":0.00209},{"x":65.8,"y":0.00213},{"x":66.8,"y":0.00222},{"x":67.8,"y":0.00209},{"x":68.8,"y":0.00203},{"x":69.8,"y":0.00213},{"x":70.8,"y":0.00215},{"x":71.8,"y":0.00231},{"x":72.8,"y":0.00228},{"x":73.8,"y":0.00225},{"x":74.8,"y":0.00231},{"x":75.8,"y":0.00218},{"x":76.8,"y":0.00218},{"x":77.8,"y":0.00215},{"x":78.8,"y":0.00218},{"x":79.8,"y":0.00222},{"x":80.8,"y":0.00192},{"x":81.8,"y":0.00171},{"x":82.8,"y":0.00132},{"x":83.8,"y":0.00132},{"x":84.8,"y":0.00126},{"x":85.8,"y":0.00129},{"x":86.8,"y":0.00113},{"x":87.8,"y":0.00075},{"x":88.8,"y":0.00069},{"x":89.8,"y":0.00065},{"x":90.8,"y":0.00069},{"x":91.8,"y":0.00069},{"x":92.8,"y":0.0006},{"x":93.8,"y":0.00043},{"x":94.8,"y":0.00034},{"x":95.8,"y":0.00022},{"x":96.8,"y":0.00018},{"x":97.8,"y":0.00011},{"x":98.8,"y":0.00005},{"x":99.8,"y":-0.00001},{"x":100.8,"y":-0.00009},{"x":101.8,"y":-0.00014},{"x":102.8,"y":-0.00017},{"x":104.2,"y":-0.0002},{"x":106.1,"y":-0.00022},{"x":107.8,"y":-0.00024},{"x":109.4,"y":-0.00029},{"x":111.6,"y":-0.00027},{"x":113.6,"y":-0.00022},{"x":116.1,"y":-0.00019},{"x":118.6,"y":-0.00011},{"x":122,"y":-0.00005},{"x":125.3,"y":-0.00001},{"x":143.7,"y":0},{"x":145,"y":0.00005},{"x":146,"y":0.00037},{"x":147,"y":0.00082},{"x":148,"y":0.00132},{"x":149,"y":0.00164},{"x":150,"y":0.00167},{"x":151,"y":0.00158},{"x":152,"y":0.00113},{"x":153,"y":-0.00001},{"x":154,"y":-0.00192},{"x":155,"y":-0.00383},{"x":156,"y":-0.00575},{"x":157,"y":-0.00689},{"x":158,"y":-0.00699},{"x":159,"y":-0.00511},{"x":160,"y":-0.00129},{"x":161,"y":0.00203},{"x":162,"y":0.00285},{"x":162.7,"y":0.00307},{"x":163.7,"y":0.00062},{"x":164.7,"y":-0.00256},{"x":165.7,"y":-0.00511},{"x":166.7,"y":-0.00581},{"x":167.7,"y":-0.00383},{"x":168.7,"y":0.00126},{"x":169.8,"y":0.00636},{"x":170.6,"y":0.00817},{"x":171.6,"y":0.00737},{"x":172.6,"y":0.00381},{"x":173.6,"y":-0.00129},{"x":174.6,"y":-0.00549},{"x":175.6,"y":-0.00638},{"x":176.6,"y":-0.00383},{"x":177.6,"y":-0.00001},{"x":178.6,"y":0.00304},{"x":179.6,"y":0.00425},{"x":180.6,"y":0.00355},{"x":181.6,"y":0.0019},{"x":182.6,"y":-0.00027},{"x":183.6,"y":-0.00084},{"x":184.6,"y":0.00101},{"x":185.6,"y":0.00304},{"x":186.6,"y":0.00349},{"x":187.6,"y":0.00355},{"x":188.6,"y":0.00254},{"x":189.6,"y":0.00062},{"x":190.6,"y":-0.00154},{"x":191.8,"y":-0.00233}],
"a10000": [{"x":1,"y":-0.00187},{"x":2,"y":-0.00052},{"x":3,"y":0.00026},{"x":4,"y":0.0004},{"x":5,"y":-0.00024},{"x":6,"y":-0.00137},{"x":7,"y":-0.00221},{"x":8,"y":-0.00236},{"x":9,"y":-0.00193},{"x":10,"y":-0.00137},{"x":11,"y":-0.00094},{"x":12,"y":-0.00075},{"x":13,"y":-0.00069},{"x":14,"y":-0.00066},{"x":15,"y":-0.00047},{"x":16,"y":0.00004},{"x":17,"y":0.00046},{"x":18,"y":0.00083},{"x":18.9,"y":0.00099},{"x":19.9,"y":0.00094},{"x":20.9,"y":0.00077},{"x":21.9,"y":0.00059},{"x":22.9,"y":0.00055},{"x":23.9,"y":0.00063},{"x":24.9,"y":0.00074},{"x":25.9,"y":0.00076},{"x":26.9,"y":0.00067},{"x":27.9,"y":0.00043},{"x":28.9,"y":0.00026},{"x":29.9,"y":0.00014},{"x":30.9,"y":0.0001},{"x":31.9,"y":0.00012},{"x":32.9,"y":0.00015},{"x":33.9,"y":0.00015},{"x":34.9,"y":0.00011},{"x":35.9,"y":0.00003},{"x":36.9,"y":-0.00004},{"x":37.9,"y":-0.0001},{"x":38.9,"y":-0.00013},{"x":39.9,"y":-0.00016},{"x":40.9,"y":-0.00018},{"x":41.9,"y":-0.0002},{"x":42.9,"y":-0.00019},{"x":43.9,"y":-0.00017},{"x":44.9,"y":-0.00017},{"x":45.9,"y":-0.00021},{"x":46.9,"y":-0.00028},{"x":47.9,"y":-0.00035},{"x":48.9,"y":-0.00042},{"x":49.9,"y":-0.0004},{"x":50.9,"y":-0.00024},{"x":51.9,"y":-0.00002},{"x":52.9,"y":0.00024},{"x":53.9,"y":0.00031},{"x":54.9,"y":0.00031},{"x":55.9,"y":0.00021},{"x":56.9,"y":0.00004},{"x":57.9,"y":-0.00002},{"x":58.9,"y":0},{"x":59.9,"y":0.00018},{"x":60.9,"y":0.00035},{"x":61.9,"y":0.00046},{"x":62.9,"y":0.00047},{"x":63.9,"y":0.00035},{"x":64.9,"y":0.00015},{"x":65.9,"y":-0.00002},{"x":66.9,"y":-0.00008},{"x":67.9,"y":-0.00006},{"x":68.9,"y":0.00003},{"x":69.9,"y":0.00008},{"x":70.9,"y":0.00007},{"x":71.9,"y":-0.00003},{"x":72.9,"y":-0.00014},{"x":73.9,"y":-0.0002},{"x":74.9,"y":-0.00021},{"x":75.9,"y":-0.00016},{"x":76.9,"y":-0.0001},{"x":77.9,"y":-0.00006},{"x":78.9,"y":-0.00006},{"x":79.9,"y":-0.0001},{"x":80.9,"y":-0.00014},{"x":81.9,"y":-0.00015},{"x":82.9,"y":-0.00013},{"x":83.9,"y":-0.00007},{"x":84.9,"y":-0.00003},{"x":85.9,"y":0},{"x":86.9,"y":0.00001},{"x":87.9,"y":0.00001},{"x":89.2,"y":0},{"x":90.5,"y":0.00001},{"x":91.8,"y":0.00003},{"x":93.2,"y":0.00005},{"x":94.5,"y":0.00006},{"x":96.2,"y":0.00006},{"x":97.9,"y":0.00006},{"x":99.5,"y":0.00007},{"x":101.2,"y":0.00007},{"x":102.9,"y":0.00005},{"x":104.5,"y":0.00003},{"x":106.2,"y":0.00001},{"x":108.4,"y":0.00001},{"x":110.4,"y":-0.00001},{"x":112.6,"y":-0.00003},{"x":115.1,"y":-0.00003},{"x":118.5,"y":-0.00002},{"x":121.8,"y":-0.00001},{"x":125.2,"y":0.00001},{"x":128.5,"y":0.00003},{"x":131,"y":0.00002},{"x":133.5,"y":0.00002},{"x":136.9,"y":0.00003},{"x":139.4,"y":0.00001},{"x":141.9,"y":0},{"x":145.3,"y":0},{"x":147.8,"y":-0.00001},{"x":149.5,"y":-0.00001},{"x":151.5,"y":0.00001},{"x":170.9,"y":0.00001}]
},
"concat": [
{"title": "ADDRESS '0000DC00'", "width": 397, "height": 437, "data": {"name": "dc00"}, "mark": {"type": "line", "clip": true},
 "encoding": {"x": {"field": "x", "type": "quantitative", "scale": {"domain": [1, 200], "nice": false, "zero": false}, "axis": {"title": null, "values": [25,50,75,100,125,150,175,200]}},
  "y": {"field": "y", "type": "quantitative", "scale": {"domain": [-0.01687, 0.00409], "nice": false, "zero": false}, "axis": {"title": null, "format": ".4f", "values": [0.0025,0,-0.0025,-0.005,-0.0075,-0.01,-0.0125,-0.015]}}}},
{"title": "ADDRESS '0000E000'", "width": 397, "height": 437, "data": {"name": "e000"}, "mark": {"type": "line", "clip": true},
 "encoding": {"x": {"field": "x", "type": "quantitative", "scale": {"domain": [1, 200], "nice": false, "zero": false}, "axis": {"title": null, "values": [25,50,75,100,125,150,175,200]}},
  "y": {"field": "y", "type": "quantitative", "scale": {"domain": [-0.01617, 0.01084], "nice": false, "zero": false}, "axis": {"title": null, "format": ".3f", "values": [0.01,0.005,0,-0.005,-0.01,-0.015]}}}},
{"title": "ADDRESS '0000E400'", "width": 397, "height": 437, "data": {"name": "e400"}, "mark": {"type": "line", "clip": true},
 "encoding": {"x": {"field": "x", "type": "quantitative", "scale": {"domain": [1, 200], "nice": false, "zero": false}, "axis": {"title": null, "values": [25,50,75,100,125,150,175,200]}},
  "y": {"field": "y", "type": "quantitative", "scale": {"domain": [-0.01035, 0.00946], "nice": false, "zero": false}, "axis": {"title": null, "format": ".4f", "values": [0.0075,0.005,0.0025,0,-0.0025,-0.005,-0.0075,-0.01]}}}},
{"title": "ADDRESS '0000E800'", "width": 397, "height": 437, "data": {"name": "e800"}, "mark": {"type": "line", "clip": true},
 "encoding": {"x": {"field": "x", "type": "quantitative", "scale": {"domain": [1, 200], "nice": false, "zero": false}, "axis": {"title": null, "values": [25,50,75,100,125,150,175,200]}},
  "y": {"field": "y", "type": "quantitative", "scale": {"domain": [-0.01673, 0.01605], "nice": false, "zero": false}, "axis": {"title": null, "format": ".3f", "values": [0.015,0.01,0.005,0,-0.005,-0.01,-0.015]}}}},
{"title": "ADDRESS '0000EC00'", "width": 397, "height": 437, "data": {"name": "ec00"}, "mark": {"type": "line", "clip": true},
 "encoding": {"x": {"field": "x", "type": "quantitative", "scale": {"domain": [1, 200], "nice": false, "zero": false}, "axis": {"title": null, "values": [25,50,75,100,125,150,175,200]}},
  "y": {"field": "y", "type": "quantitative", "scale": {"domain": [-0.000477, 0.000518], "nice": false, "zero": false}, "axis": {"title": null, "format": ".4f", "values": [0.0004,0.0002,0,-0.0002,-0.0004]}}}},
{"title": "ADDRESS '0000F000'", "width": 397, "height": 437, "data": {"name": "f000"}, "mark": {"type": "line", "clip": true},
 "encoding": {"x": {"field": "x", "type": "quantitative", "scale": {"domain": [1, 200], "nice": false, "zero": false}, "axis": {"title": null, "values": [25,50,75,100,125,150,175,200]}},
  "y": {"field": "y", "type": "quantitative", "scale": {"domain": [-0.0023965, 0.003379], "nice": false, "zero": false}, "axis": {"title": null, "format": ".3f", "values": [0.003,0.002,0.001,0,-0.001,-0.002]}}}},
{"title": "ADDRESS '0000F400'", "width": 397, "height": 437, "data": {"name": "f400"}, "mark": {"type": "line", "clip": true},
 "encoding": {"x": {"field": "x", "type": "quantitative", "scale": {"domain": [1, 200], "nice": false, "zero": false}, "axis": {"title": null, "values": [25,50,75,100,125,150,175,200]}},
  "y": {"field": "y", "type": "quantitative", "scale": {"domain": [-0.01373, 0.005883], "nice": false, "zero": false}, "axis": {"title": null, "format": ".4f", "values": [0.005,0.0025,0,-0.0025,-0.005,-0.0075,-0.01,-0.0125]}}}},
{"title": "ADDRESS '0000F800'", "width": 397, "height": 437, "data": {"name": "f800"}, "mark": {"type": "line", "clip": true},
 "encoding": {"x": {"field": "x", "type": "quantitative", "scale": {"domain": [1, 200], "nice": false, "zero": false}, "axis": {"title": null, "values": [25,50,75,100,125,150,175,200]}},
  "y": {"field": "y", "type": "quantitative", "scale": {"domain": [-0.01166, 0.009468], "nice": false, "zero": false}, "axis": {"title": null, "format": ".4f", "values": [0.0075,0.005,0.0025,0,-0.0025,-0.005,-0.0075,-0.01]}}}},
{"title": "ADDRESS '0000FC00'", "width": 397, "height": 437, "data": {"name": "fc00"}, "mark": {"type": "line", "clip": true},
 "encoding": {"x": {"field": "x", "type": "quantitative", "scale": {"domain": [1, 200], "nice": false, "zero": false}, "axis": {"title": null, "values": [25,50,75,100,125,150,175,200]}},
  "y": {"field": "y", "type": "quantitative", "scale": {"domain": [-0.00778, 0.008904], "nice": false, "zero": false}, "axis": {"title": null, "format": ".3f", "values": [0.008,0.006,0.004,0.002,0,-0.002,-0.004,-0.006]}}}},
{"title": "ADDRESS '00010000'", "width": 397, "height": 437, "data": {"name": "a10000"}, "mark": {"type": "line", "clip": true},
 "encoding": {"x": {"field": "x", "type": "quantitative", "scale": {"domain": [1, 200], "nice": false, "zero": false}, "axis": {"title": null, "values": [25,50,75,100,125,150,175,200]}},
  "y": {"field": "y", "type": "quantitative", "scale": {"domain": [-0.002525, 0.001157], "nice": false, "zero": false}, "axis": {"title": null, "format": ".4f", "values": [0.001,0.0005,0,-0.0005,-0.001,-0.0015,-0.002,-0.0025]}}}}
],
"config": {
 "view": {"stroke": "#000000", "strokeWidth": 1.1},
 "axis": {"grid": false, "domain": false, "labelFont": "DejaVu Sans", "labelFontSize": 13.89, "labelColor": "#000000", "tickColor": "#000000", "tickSize": 4.86, "tickWidth": 1.1, "labelPadding": 4.86, "labelFlush": false, "labelOverlap": false},
 "title": {"font": "DejaVu Sans", "fontSize": 16.67, "fontWeight": "normal", "color": "#000000", "offset": 4.5, "anchor": "middle", "baseline": "alphabetic"},
 "line": {"color": "#1f77b4", "strokeWidth": 2.08, "strokeJoin": "round"}
}
}
